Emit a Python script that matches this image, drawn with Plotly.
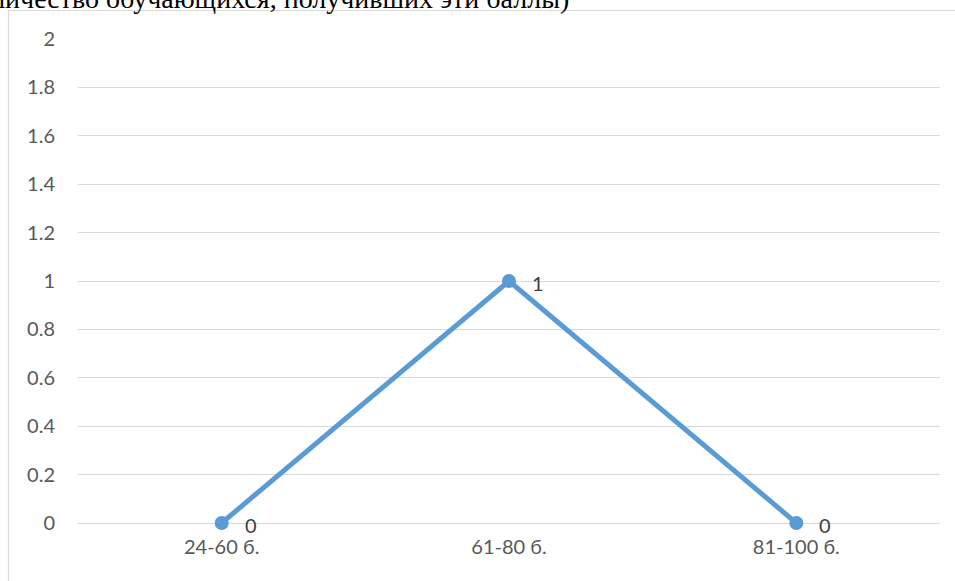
import plotly.graph_objects as go

# Score bands and the number of students in each
categories = ["24-60 б.", "61-80 б.", "81-100 б."]
counts = [0, 1, 0]
y_ticks = [0, 0.2, 0.4, 0.6, 0.8, 1, 1.2, 1.4, 1.6, 1.8, 2]
caption = "(количество обучающихся, получивших эти баллы)"

W, H = 955, 581
L, R, T, B = 78, 15, 39, 58
pw, ph = W - L - R, H - T - B


def px_x(p):
    return (p - L) / pw


def px_y(p):
    return 1 - (p - T) / ph


LABEL_FONT = "Lato, Calibri, sans-serif"

fig = go.Figure()
fig.add_trace(go.Scatter(
    x=categories,
    y=counts,
    mode="lines+markers",
    line=dict(color="#5B9BD5", width=5),
    marker=dict(size=14, color="#5B9BD5"),
    cliponaxis=False,
    hoverinfo="skip",
))

# value labels beside each point
for c, v in zip(categories, counts):
    fig.add_annotation(
        x=c, y=v, text=str(v), showarrow=False,
        xanchor="center", yanchor="middle", xshift=29, yshift=-2,
        font=dict(family=LABEL_FONT, size=20, color="#404040"),
    )

# caption line running off the top of the chart area
fig.add_annotation(
    xref="paper", yref="paper", x=px_x(-46), y=px_y(16),
    xanchor="left", yanchor="bottom", showarrow=False,
    text=caption,
    font=dict(family="Liberation Serif, Times New Roman, serif", size=28, color="#000000"),
)

# chart area border
fig.add_shape(
    type="rect", xref="paper", yref="paper",
    x0=px_x(8.5), y0=px_y(620), x1=px_x(1000), y1=px_y(10.5),
    line=dict(color="#d9d9d9", width=1.2), fillcolor="rgba(0,0,0,0)",
    layer="below",
)

fig.update_layout(
    width=W, height=H,
    margin=dict(l=L, r=R, t=T, b=B),
    paper_bgcolor="white", plot_bgcolor="white",
    showlegend=False,
    font=dict(family=LABEL_FONT, size=20, color="#595959"),
)
fig.update_xaxes(
    type="category", range=[-0.5, 2.5],
    showgrid=False, showline=False, zeroline=False,
    ticks="", ticklabelstandoff=10,
    tickfont=dict(size=20, color="#595959"),
)
fig.update_yaxes(
    range=[0, 2], tickvals=y_ticks, ticktext=[f"{v:g}" for v in y_ticks],
    showgrid=True, gridcolor="#d9d9d9", gridwidth=1,
    zeroline=True, zerolinecolor="#d9d9d9", zerolinewidth=1,
    showline=False, ticks="", ticklabelstandoff=22,
    tickfont=dict(size=20, color="#595959"),
)

fig.write_html("out.html")
